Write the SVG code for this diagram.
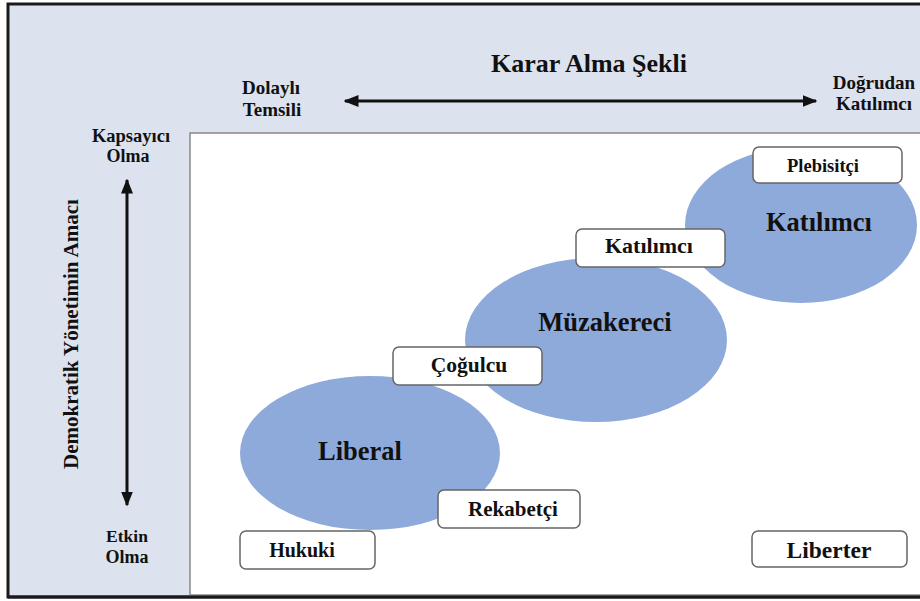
<svg xmlns="http://www.w3.org/2000/svg" width="920" height="601" viewBox="0 0 920 601">
<defs>
<style>
text{font-family:"Liberation Serif",serif;font-weight:bold;fill:#111;text-anchor:middle}
.box{fill:#fff;stroke:#666;stroke-width:1.5}
.ell{fill:#8eaadb}
.ax{stroke:#111;stroke-width:3;fill:none}
</style>
<marker id="ah" viewBox="0 0 10 10" refX="9" refY="5" markerWidth="5" markerHeight="5" orient="auto-start-reverse" markerUnits="strokeWidth">
<path d="M0,1 L10,5 L0,9 Z" fill="#111"/>
</marker>
</defs>
<rect x="0" y="0" width="920" height="601" fill="#fff"/>
<rect x="8" y="4" width="914" height="593" fill="#dce3ee" stroke="#1a1a1a" stroke-width="3"/>
<rect x="190" y="133" width="732" height="462" fill="#fff" stroke="#888" stroke-width="1.5"/>
<path d="M8,597 H922" stroke="#1a1a1a" stroke-width="3"/>

<g id="connectors">
<line class="ax" x1="345" y1="101" x2="816" y2="101" marker-start="url(#ah)" marker-end="url(#ah)"/>
<line class="ax" x1="127" y1="180" x2="127" y2="505" marker-start="url(#ah)" marker-end="url(#ah)"/>
</g>

<g id="axis-labels">
<text x="589" y="72" font-size="26">Karar Alma Şekli</text>
<text x="271" y="94" font-size="19">Dolaylı</text>
<text x="272" y="116" font-size="19">Temsili</text>
<text x="874" y="89" font-size="19">Doğrudan</text>
<text x="874" y="110" font-size="19">Katılımcı</text>
<text x="131" y="142" font-size="18.5">Kapsayıcı</text>
<text x="128" y="162" font-size="18">Olma</text>
<text x="127" y="542" font-size="17.5">Etkin</text>
<text x="127" y="563" font-size="18">Olma</text>
<text x="78" y="334" font-size="21" transform="rotate(-90 78 334)">Demokratik Yönetimin Amacı</text>
</g>

<g id="liberal">
<ellipse class="ell" cx="370" cy="453" rx="130" ry="77"/>
<text x="360" y="460" font-size="26.5">Liberal</text>
</g>
<g id="muzakereci">
<ellipse class="ell" cx="596" cy="340" rx="131" ry="82"/>
<text x="605" y="331" font-size="26.5">Müzakereci</text>
</g>
<g id="katilimci">
<ellipse class="ell" cx="801" cy="225" rx="116" ry="78"/>
<text x="819" y="231" font-size="26.5">Katılımcı</text>
</g>

<g id="plebisitci">
<rect class="box" x="753" y="147" width="149" height="36" rx="6"/>
<text x="823" y="172" font-size="18.5">Plebisitçi</text>
</g>
<g id="katilimci-box">
<rect class="box" x="576" y="229" width="149" height="38" rx="6"/>
<text x="649" y="253" font-size="22">Katılımcı</text>
</g>
<g id="cogulcu">
<rect class="box" x="393" y="347" width="149" height="38" rx="6"/>
<text x="469" y="372" font-size="21.5">Çoğulcu</text>
</g>
<g id="rekabetci">
<rect class="box" x="438" y="490" width="142" height="38" rx="6"/>
<text x="513" y="516" font-size="21">Rekabetçi</text>
</g>
<g id="hukuki">
<rect class="box" x="240" y="531" width="135" height="38" rx="6"/>
<text x="302" y="557" font-size="20">Hukuki</text>
</g>
<g id="liberter">
<rect class="box" x="752" y="531" width="155" height="36" rx="6"/>
<text x="829" y="558" font-size="23.5">Liberter</text>
</g>
</svg>
